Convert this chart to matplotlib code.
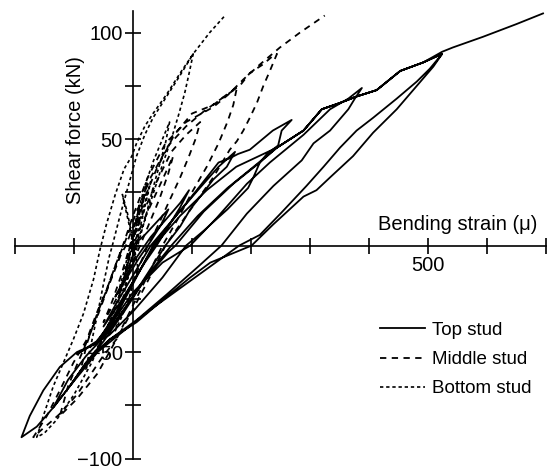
import matplotlib
matplotlib.use("Agg")
import matplotlib.pyplot as plt

plt.rcParams['font.family'] = ['Liberation Sans', 'DejaVu Sans']

# load history of each stud: bending strain (micro) vs shear force (kN)
top_strain = [0, 20, 40, 60, 48, 30, 10, -10, -30, -15, 5, 30, 55, 80, 95,
              80, 60, 40, 20, 0, -25, -50,
              -30, 0, 30, 70, 110, 145, 173,
              159, 136, 114, 97, 80, 55, 25, -10, -40, -62,
              -35, 0, 34, 70, 108, 145, 164, 178, 198, 237, 269,
              252, 246, 227, 215, 204, 195, 160, 120, 90, 50, 0, -40, -95,
              -62, -30, 0, 50, 97, 142, 193, 232, 289, 334, 365, 388,
              376, 365, 334, 306, 286, 258, 238, 193, 150, 110, 57, 6, -39, -67, -84, -107, -135,
              -110, -80, -50, -10, 30, 65, 110, 160, 200, 244, 289, 320, 351, 379, 413, 453, 492, 524,
              503, 481, 447, 407, 379, 351, 323, 294, 250, 215, 180, 130, 80, 30, -20, -60, -107,
              -80, -50, -15, 20, 60, 72, 120, 170, 215, 244, 289, 320, 351, 379, 413, 453, 492, 524,
              509, 481, 447, 407, 373, 334, 311, 289, 238, 201, 131, 97, 57, 6, -39, -67, -84, -107, -135, -163, -189,
              -175, -152, -124, -95, -62, -30, 0, 32, 36, 80, 125, 175, 244, 289, 320, 351, 379, 413, 453, 492, 524,
              542, 593, 650, 695]
top_force = [0, 5, 11, 17, 10, 2, -6, -15, -24, -16, -6, 4, 12, 20, 26,
             18, 9, 0, -8, -17, -28, -38,
             -28, -14, 0, 13, 26, 37, 44,
             37, 31, 23, 17, 9, 0, -13, -28, -40, -46,
             -36, -18, 0, 13, 26, 39, 41, 43, 45, 54, 59,
             54, 47, 43, 39, 32, 27, 17, 7, 0, -15, -31, -42, -51,
             -45, -34, -22, -8, 0, 13, 29, 39, 52, 64, 69, 74,
             69, 64, 54, 48, 40, 33, 28, 15, 0, -10, -23, -35, -44, -51, -57, -66, -76,
             -63, -52, -43, -28, -12, 0, 14, 27, 36, 46, 54, 64, 67, 70, 73, 82, 86, 90,
             83, 77, 69, 60, 54, 46, 37, 28, 15, 5, 0, -10, -20, -30, -41, -50, -66,
             -55, -45, -31, -16, -3, 0, 16, 29, 39, 46, 54, 64, 67, 70, 73, 82, 86, 90,
             84, 75, 64, 53, 42, 32, 26, 23, 10, 0, -8, -15, -24, -36, -44, -51, -57, -66, -76, -85, -90,
             -80, -68, -57, -50, -46, -32, -17, -2, 0, 14, 26, 37, 46, 54, 64, 67, 70, 73, 82, 86, 91,
             93, 98, 104, 109]

mid_strain = [0, 6, 12, 4, -6, -15, -8, 2, 14, 24, 14, 0, -12, -24,
              -12, 0, 15, 35, 55, 68,
              60, 45, 30, 12, -10, -30, -50,
              -35, -20, -5, 15, 40, 65, 90, 114,
              106, 95, 80, 60, 40, 25, 0, -30, -60, -90,
              -78, -62, -45, -28, -16, 5, 30, 60, 90, 120, 150, 176,
              170, 160, 145, 125, 100, 75, 50, 25, 0, -30, -60, -95, -124,
              -110, -95, -78, -60, -40, -20, -12, 10, 40, 70, 100, 136, 164, 181, 198, 220, 237, 244,
              232, 221, 210, 198, 187, 176, 164, 136, 108, 80, 60, 55, 30, 0, -28, -51, -73, -95, -124, -136, -153, -169,
              -146, -124, -101, -78, -62, -45, -28, -16, 0, 25, 55, 90, 136, 162, 187, 215, 249, 283, 325]
mid_force = [0, 10, 20, 10, -4, -16, -6, 6, 18, 30, 16, 2, -12, -24,
             -12, 0, 10, 22, 34, 42,
             34, 22, 12, 0, -14, -26, -36,
             -26, -14, 0, 14, 30, 44, 52, 58,
             50, 42, 32, 20, 8, 0, -17, -34, -48, -60,
             -46, -33, -21, -8, 0, 15, 32, 47, 56, 63, 69, 74,
             66, 58, 48, 37, 25, 12, 0, -14, -28, -45, -60, -72, -80,
             -66, -56, -45, -33, -18, -4, 0, 16, 36, 52, 62, 66, 72, 75, 81, 85, 89, 90,
             82, 75, 67, 60, 54, 49, 45, 32, 21, 10, 2, 0, -14, -30, -44, -52, -61, -70, -79, -82, -86, -90,
             -80, -68, -55, -44, -32, -21, -8, 1, 14, 32, 48, 58, 65, 71, 78, 85, 93, 100, 108]

bot_strain = [0, -4, -10, -18, -10, 0, 8, 0, -8, -20, -30, -18, -6, 4, 10, 20, 30,
              25, 15, 5, -10, -25,
              -15, -5, 5, 20, 35, 50, 62,
              55, 45, 32, 20, 8, -10, -30, -55, -80,
              -70, -60, -50, -40, -35, -22, -8, 6, 20, 34, 57, 80, 102,
              96, 88, 78, 65, 50, 35, 20, 5, -15, -40, -70, -100, -130, -150, -163,
              -152, -135, -118, -101, -84, -67, -56, -45, -30, -15, -2, 6, 20, 34, 57, 80, 102, 130, 156]
bot_force = [0, 8, 16, 24, 14, 2, -10, -18, -26, -34, -40, -26, -12, 0, 10, 20, 30,
             24, 12, 0, -12, -22,
             -12, 0, 12, 28, 40, 50, 58,
             48, 38, 25, 12, 0, -16, -30, -45, -58,
             -45, -32, -18, -5, 0, 14, 28, 42, 52, 60, 70, 80, 90,
             82, 72, 62, 50, 38, 25, 12, 0, -17, -36, -55, -70, -82, -88, -90,
             -80, -66, -55, -44, -32, -16, -2, 10, 24, 36, 42, 48, 56, 62, 71, 81, 90, 100, 108]

fig = plt.figure(figsize=(5.51, 4.69), dpi=100)
ax = fig.add_axes([0, 0, 1, 1])

ax.plot(top_strain, top_force, color='black', lw=1.3, label='Top stud')
ax.plot(mid_strain, mid_force, color='black', lw=1.3, dashes=(3.5, 3.0), label='Middle stud')
ax.plot(bot_strain, bot_force, color='black', lw=1.2, dashes=(2.0, 1.7), label='Bottom stud')

ax.set_xlim(-225.4, 708.5)
ax.set_ylim(-104.9, 115.3)

for s in ['top', 'right']:
    ax.spines[s].set_visible(False)
ax.spines['left'].set_position(('data', 0))
ax.spines['bottom'].set_position(('data', 0))
ax.spines['left'].set_bounds(-100, 110)
ax.spines['bottom'].set_bounds(-200, 700)
ax.spines['left'].set_linewidth(1.2)
ax.spines['bottom'].set_linewidth(1.2)

xt = list(range(-200, 701, 100))
ax.set_xticks(xt)
ax.set_xticklabels(['500' if v == 500 else '' for v in xt])
yt = list(range(-100, 101, 25))
ylab = {100: '100', 50: '50', -50: '\u221250', -100: '\u2212100'}
ax.set_yticks(yt)
ax.set_yticklabels([ylab.get(v, '') for v in yt])
ax.tick_params(direction='inout', length=11, width=1.2, labelsize=14.5, pad=2)

ax.text(-98, 54, 'Shear force (kN)', rotation=90, ha='center', va='center', fontsize=14.5)
ax.text(551, 10, 'Bending strain (\u03bc)', ha='center', va='center', fontsize=14.5)

ax.legend(loc='upper left', bbox_to_anchor=(0.672, 0.334), frameon=False, fontsize=13.5,
          handlelength=2.4, handletextpad=0.4, labelspacing=0.65, borderpad=0)

fig.savefig('out.png', dpi=100)
